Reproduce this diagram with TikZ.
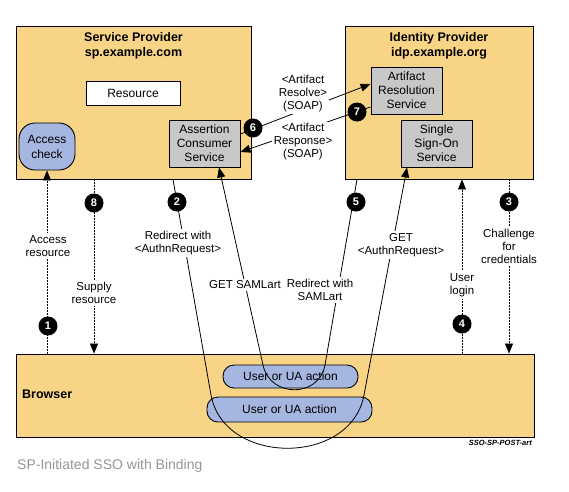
\documentclass[tikz,border=0pt]{standalone}
\usepackage{fontspec}
\setmainfont{Liberation Sans}
\usetikzlibrary{arrows.meta}
\definecolor{provfill}{RGB}{247,212,134}
\definecolor{boxgrey}{RGB}{200,200,200}
\definecolor{uablue}{RGB}{165,183,225}
\definecolor{capgrey}{RGB}{150,150,150}
\newcommand{\boxfont}{\fontsize{12}{14}\selectfont}
\newcommand{\msgfont}{\fontsize{11.5}{13}\selectfont}
\newcommand{\titlefont}{\fontsize{12.5}{15}\selectfont\bfseries}
\newcommand{\numfont}{\fontsize{11}{11}\selectfont\bfseries}
\begin{document}
\begin{tikzpicture}[x=1pt,y=1pt,
  every node/.style={inner sep=0pt},
  provider/.style={draw,fill=provfill,line width=0.9pt},
  service/.style={draw,fill=boxgrey,line width=0.9pt,align=center,minimum width=71pt,minimum height=47pt,font=\boxfont},
  action/.style={draw,fill=uablue,line width=0.9pt,rounded corners=11pt,font=\boxfont},
  msg/.style={fill=white,align=center,inner sep=2pt,font=\msgfont},
  num/.style={circle,fill=black,text=white,minimum size=19pt,font=\numfont},
  flow/.style={line width=0.8pt,-{Triangle[length=10pt,width=8pt]}},
  dotflow/.style={flow,dash pattern=on 1.2pt off 1.8pt},
  wire/.style={line width=0.8pt}]
\path[use as bounding box,fill=white] (0,0) rectangle (569,-491);
% providers and browser
\node[provider,minimum width=235pt,minimum height=153pt] (sp) at (133.5,-102.5) {};
\node[provider,minimum width=188pt,minimum height=153pt] (idp) at (439,-102.5) {};
\node[provider,minimum width=518pt,minimum height=83pt] (browser) at (275,-395.5) {};
\node[font=\titlefont,align=center] (sptitle) at (133.5,-46) {Service Provider\\sp.example.com};
\node[font=\titlefont,align=center] (idptitle) at (439,-46) {Identity Provider\\idp.example.org};
\node[font=\fontsize{12.5}{15}\selectfont\bfseries,anchor=west] (brtitle) at (22,-394) {Browser};
% boxes inside
\node[draw,fill=white,line width=0.9pt,minimum width=94pt,minimum height=24pt,font=\boxfont] (res) at (133,-93) {Resource};
\node[service] (acs) at (204.5,-143.5) {Assertion\\Consumer\\Service};
\node[service] (ars) at (406.5,-90.5) {Artifact\\Resolution\\Service};
\node[service] (sso) at (436.5,-143.5) {Single\\Sign-On\\Service};
\node[draw,fill=uablue,line width=0.9pt,rounded corners=16pt,minimum width=56pt,minimum height=47pt,align=center,font=\fontsize{12}{15}\selectfont] (access) at (47,-146.5) {Access\\check};
\node[action,minimum width=135pt,minimum height=23pt] (ua1) at (290.5,-376.5) {User or UA action};
\node[action,minimum width=165pt,minimum height=25pt] (ua2) at (289.5,-409.5) {User or UA action};
% connectors
\draw[dotflow] (access.south |- browser.north) -- (access.south);
\draw[dotflow] ([xshift=-39.5pt]sp.south) -- ([xshift=-39.5pt]sp.south |- browser.north);
\draw[dotflow] ([xshift=70pt]idp.south) -- ([xshift=70pt]idp.south |- browser.north);
\draw[dotflow] ([xshift=23pt]idp.south |- browser.north) -- ([xshift=23pt]idp.south);
\draw[flow] ([yshift=9.5pt]acs.east) -- ([yshift=6.5pt]ars.west);
\draw[flow] ([yshift=-16.5pt]ars.west) -- ([yshift=-8.5pt]acs.east);
\coordinate (authnL) at (211,-395);
\coordinate (authnR) at (364,-395);
\draw[flow] ([xshift=39.5pt]sp.south) -- (authnL)
  .. controls (224,-466) and (351,-466) .. (authnR) -- ([xshift=-29.5pt]sso.south);
\coordinate (artR) at (325,-365);
\coordinate (artL) at (263,-365);
\draw[flow] ([xshift=-82pt]idp.south) -- (artR)
  .. controls (319,-398) and (270,-398) .. (artL) -- ([xshift=14.5pt]acs.south);
% labels
\node[msg] (m1) at (48,-246) {Access\\resource};
\node[msg] (m8) at (94,-293) {Supply\\resource};
\node[msg] (m2) at (178,-243) {Redirect with\\<AuthnRequest>};
\node[msg] (m2b) at (401,-245) {GET\\<AuthnRequest>};
\node[msg] (m5) at (320,-290) {Redirect with\\SAMLart};
\node[msg] (m5b) at (245,-285) {GET SAMLart};
\node[msg] (m4) at (462,-285) {User\\login};
\node[msg] (m3) at (509,-246) {Challenge\\for\\credentials};
\node[msg] (m6) at (303,-94) {<Artifact\\Resolve>\\(SOAP)};
\node[msg] (m7) at (303,-142) {<Artifact\\Response>\\(SOAP)};
% step numbers
\node[num] (n1) at (48,-326) {1};
\node[num] (n2) at (177,-202) {2};
\node[num] (n3) at (509,-202) {3};
\node[num] (n4) at (462,-324) {4};
\node[num] (n5) at (356,-202) {5};
\node[num] (n6) at (253,-128) {6};
\node[num] (n7) at (357,-112) {7};
\node[num] (n8) at (94,-203) {8};
% footer
\node[anchor=east,font=\fontsize{7.5}{8}\selectfont\bfseries\itshape] (tag) at (532,-443) {SSO-SP-POST-art};
\node[anchor=west,text=capgrey,font=\fontsize{14}{16}\selectfont] (caption) at (17,-466) {SP-Initiated SSO with Binding};
\end{tikzpicture}
\end{document}
